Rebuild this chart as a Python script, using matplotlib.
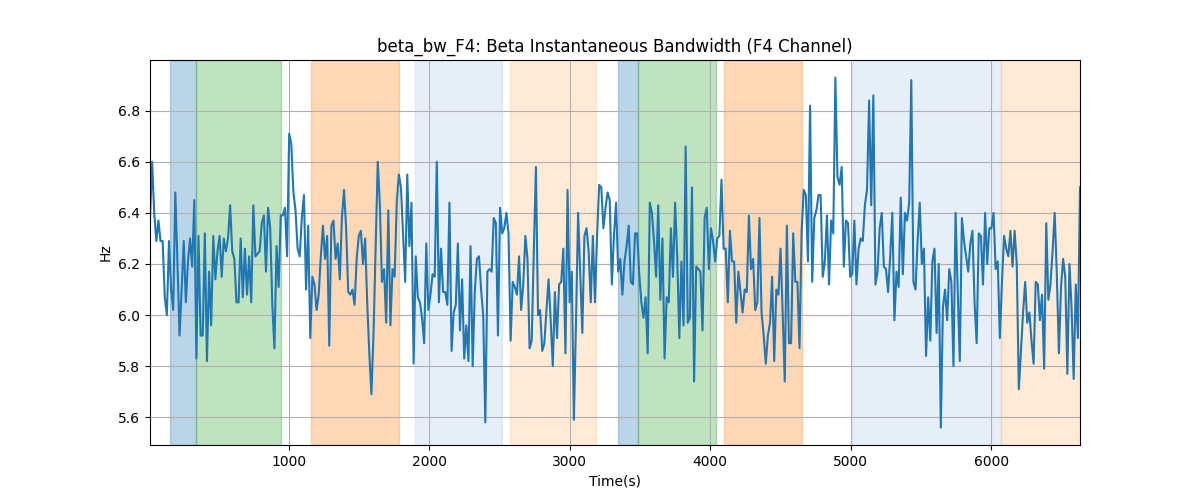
import numpy as np
import matplotlib
matplotlib.use("Agg")
import matplotlib.pyplot as plt

# Beta instantaneous bandwidth values (Hz), read left to right
bw_values = [
    6.38, 6.60, 6.40, 6.29, 6.37, 6.29, 6.29, 6.07, 6.00, 6.29,
    6.10, 6.02, 6.48, 6.21, 5.92, 6.10, 6.29, 6.05, 6.21, 6.30,
    6.19, 6.45, 5.83, 6.31, 5.92, 5.92, 6.32, 5.82, 6.17, 5.96,
    6.31, 6.14, 6.25, 6.31, 6.15, 6.30, 6.25, 6.30, 6.43, 6.25,
    6.22, 6.05, 6.05, 6.30, 6.07, 6.26, 6.08, 6.23, 6.05, 6.43,
    6.23, 6.24, 6.25, 6.36, 6.39,
    6.17, 6.42, 6.34, 6.04, 5.87, 6.27, 6.11, 6.39, 6.39, 6.42,
    6.23, 6.71, 6.67, 6.48, 6.41, 6.26, 6.23, 6.38, 6.47, 6.10,
    6.35, 5.91, 6.15, 6.12, 6.02, 6.08, 6.23, 6.35, 6.22, 6.31,
    5.88, 6.35, 6.37, 6.22, 6.28, 6.14, 6.38, 6.49, 6.34, 6.09,
    6.08, 6.10, 6.04, 6.22, 6.31, 6.33, 6.20, 6.30, 6.05, 5.85,
    5.69, 5.93, 6.27, 6.60,
    6.43, 6.13, 6.18, 5.97, 6.41, 5.96, 6.18, 6.15, 6.44, 6.55,
    6.50, 6.31, 6.13, 6.55, 6.27, 6.44, 5.81, 6.23, 6.07, 6.05,
    5.99, 5.89, 6.28, 6.02, 6.08, 6.16, 6.15, 6.60, 6.05, 6.26,
    6.09, 6.09, 6.04, 6.44, 5.86, 6.01, 6.04, 6.28, 5.94, 6.14,
    5.83, 5.96, 5.82, 6.27, 5.80, 6.09, 6.22, 6.23, 6.10, 6.00,
    5.58, 6.17, 6.18, 6.17, 6.38,
    6.36, 5.92, 6.42, 6.32, 6.34, 6.40, 6.32, 5.90, 6.13, 6.11,
    6.08, 6.23, 6.02, 6.12, 6.31, 6.22, 5.87, 5.90, 6.25, 6.58,
    6.00, 6.02, 5.86, 5.89, 6.02, 6.14, 5.98, 5.80, 6.09, 5.91,
    6.12, 6.13, 6.26, 5.85, 6.49, 6.05, 6.17, 5.59, 5.97, 6.40,
    6.17, 5.93, 6.31, 6.34, 6.25, 6.05, 6.31, 6.05, 6.31, 6.51,
    6.50, 6.34, 6.42, 6.48, 6.45,
    6.12, 6.31, 6.44, 6.17, 6.22, 6.08, 6.21, 6.27, 6.35, 6.13,
    6.12, 6.32, 6.32, 6.16, 6.05, 5.99, 6.07, 5.85, 6.44, 6.40,
    6.29, 6.15, 6.43, 6.06, 6.30, 5.83, 6.07, 6.05, 6.34, 6.15,
    6.44, 6.23, 5.91, 6.21, 5.96, 6.66, 5.97, 5.99, 6.50, 5.74,
    6.19, 6.18, 6.17, 5.94, 6.38, 6.42, 6.18, 6.34, 6.29, 6.21,
    6.30, 6.31, 6.53,
    6.26, 6.26, 6.05, 6.33, 6.21, 6.21, 5.97, 6.17, 6.09, 6.01,
    6.10, 6.09, 6.39, 6.18, 6.22, 6.02, 6.05, 6.38, 6.01, 5.92,
    5.81, 5.92, 5.97, 6.15, 5.82, 6.10, 6.08, 6.26, 6.01, 5.74,
    6.35, 5.89, 5.89, 6.32, 6.13, 6.13, 5.87, 6.33, 6.49, 6.47,
    6.21, 6.82, 6.13, 6.38, 6.41, 6.47, 6.47, 6.15, 6.21, 6.39,
    6.12, 6.37, 6.32, 6.93,
    6.54, 6.51, 6.58, 6.19, 6.37, 6.36, 6.15, 6.16, 6.37, 6.12,
    6.26, 6.30, 6.29, 6.43, 6.49, 6.84, 6.43, 6.86, 6.12, 6.17,
    6.34, 6.40, 6.19, 6.18, 6.09, 6.23, 6.40, 5.98, 6.17, 6.11,
    6.46, 6.16, 6.40, 6.37, 6.44, 6.92, 6.13, 6.10, 6.29, 6.44,
    6.20, 6.26, 5.84, 6.07, 5.90, 6.21, 6.26, 5.93, 6.20, 5.56,
    6.03, 6.10, 5.98, 6.18, 6.13, 5.80, 6.40,
    6.10, 5.82, 6.38, 6.29, 6.23, 6.17, 6.28, 6.33, 6.05, 5.89,
    6.32, 6.31, 6.12, 6.40, 6.20, 6.34, 6.34, 6.40, 6.18, 6.21,
    5.91, 6.13, 6.31, 6.26, 6.23, 6.33, 6.19, 6.33, 6.20, 5.71,
    5.86, 6.01, 6.13, 5.97, 6.01, 5.90, 5.81, 6.13, 6.12, 5.98,
    6.08, 5.79, 6.36, 6.06, 6.12, 6.25, 6.40, 6.16, 5.85, 6.11,
    6.22, 6.15, 5.77, 6.20, 6.03, 5.75, 6.12, 5.91, 6.50,
]

t_start = 13.0
t_end = 6631.0

# Shaded segments: (start, end, color)
span_starts = [155, 338, 1159, 1899, 2575, 3341, 3488, 4100, 5006, 6069]
span_ends = [338, 943, 1785, 2515, 3184, 3488, 4041, 4650, 6069, 6640]
span_colors = ["#1f77b4", "#2ca02c", "#ff7f0e", "#aec7e8", "#ffbb78",
               "#1f77b4", "#2ca02c", "#ff7f0e", "#aec7e8", "#ffbb78"]

times = np.linspace(t_start, t_end, len(bw_values))

fig, ax = plt.subplots(figsize=(12, 5), dpi=100)
for s, e, c in zip(span_starts, span_ends, span_colors):
    ax.axvspan(s, e, color=c, alpha=0.3)
ax.plot(times, bw_values, color="#1f77b4", linewidth=1.5)
ax.set_xlim(times[0], times[-1])
ax.grid(True)
ax.set_title("beta_bw_F4: Beta Instantaneous Bandwidth (F4 Channel)")
ax.set_xlabel("Time(s)")
ax.set_ylabel("Hz")
fig.savefig("out.png")
